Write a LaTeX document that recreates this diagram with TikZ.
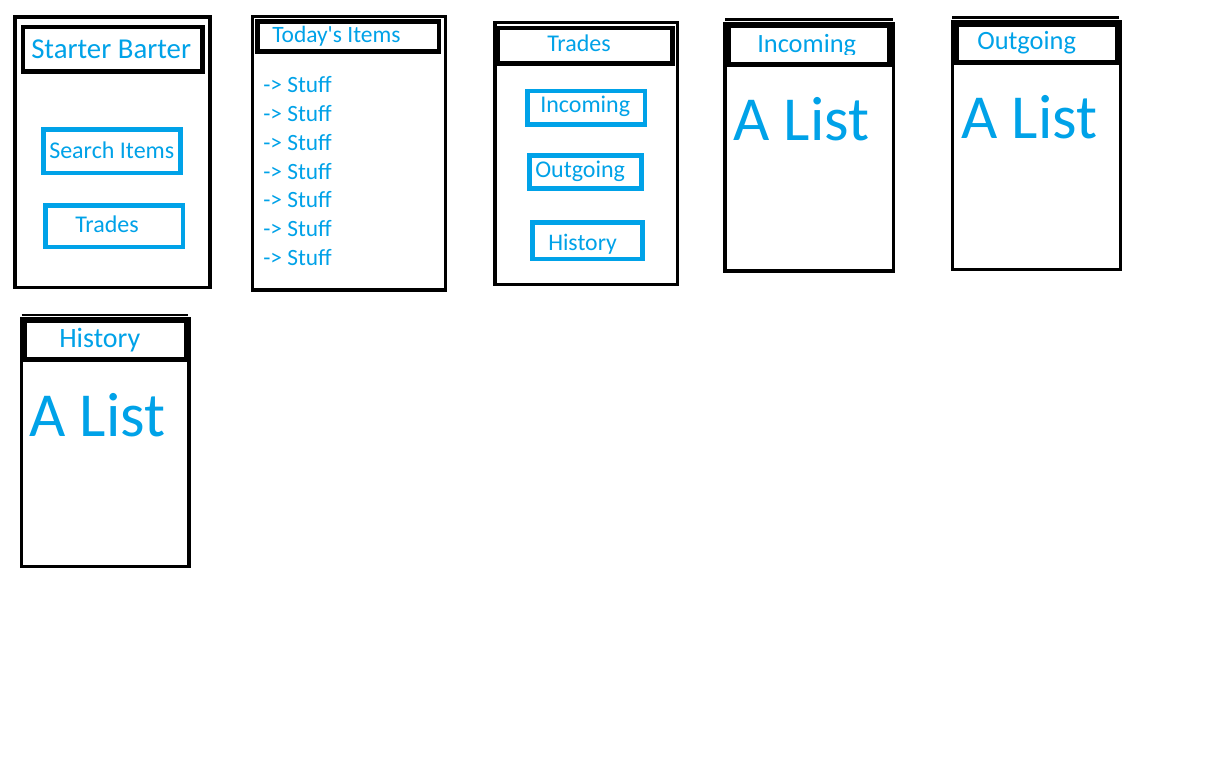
\documentclass[tikz,border=0pt]{standalone}
\usepackage{fontspec}
\setmainfont{Carlito}[Ligatures=TeXOff]
\definecolor{paintblue}{RGB}{0,162,232}
\begin{document}
\begin{tikzpicture}[x=0.75pt,y=-0.75pt,
  outer/.style={draw=black,line width=2.4pt},
  hdr/.style={draw=black,line width=3.6pt},
  btn/.style={draw=paintblue,line width=3.4pt},
  txt/.style={anchor=base west,inner sep=0pt,text=paintblue},
  thin/.style={draw=black,line width=1.6pt}]
\useasboundingbox[fill=white] (0,0) rectangle (1228,770);
% ---------- Screen 1: Starter Barter
\draw[outer] (15,17) rectangle (210,287.5);
\draw[hdr] (23,27) rectangle (202.7,71.7);
\node[txt,font=\fontsize{21.6}{24}\selectfont] (t1) at (31,59) {Starter Barter};
\draw[btn] (43.7,129.7) rectangle (180.3,173);
\node[txt,font=\fontsize{18}{20}\selectfont] (b1a) at (49,159) {Search Items};
\draw[btn] (45.7,205.7) rectangle (183,247);
\node[txt,font=\fontsize{18}{20}\selectfont] (b1b) at (75,232.7) {Trades};
% ---------- Screen 2: Today's Items
\draw[outer] (252.7,16.7) rectangle (445.7,290);
\draw[hdr] (257.7,21.7) rectangle (439,51.7);
\node[txt,font=\fontsize{17.6}{20}\selectfont] (t2) at (272,43) {Today's Items};
\foreach \y [count=\i] in {93,122,151,179.5,208,237,265.5}
  \node[txt,font=\fontsize{17.5}{20}\selectfont] (s\i) at (263,\y) {-> Stuff};
% ---------- Screen 3: Trades
\draw[outer] (495,22.3) rectangle (677.7,284.3);
\draw[hdr] (497.7,28) rectangle (672.3,63.3);
\node[txt,font=\fontsize{18}{20}\selectfont] (t3) at (547,52) {Trades};
\draw[btn] (527.7,91) rectangle (645,124.3);
\node[txt,font=\fontsize{18}{20}\selectfont] (b3a) at (540,113) {Incoming};
\draw[btn] (529.7,155.7) rectangle (641.7,188.3);
\node[txt,font=\fontsize{18}{20}\selectfont] (b3b) at (535,178) {Outgoing};
\draw[btn] (532.3,222.3) rectangle (642.3,259);
\node[txt,font=\fontsize{17.8}{20}\selectfont] (b3c) at (548,250) {History};
% ---------- Screen 4: Incoming
\draw[thin] (725,19.5) -- (893,19.5);
\draw[outer] (725,24) rectangle (893.7,271);
\draw[hdr] (728.3,25.7) rectangle (889.7,64.3);
\begin{scope}
  \clip (730,28) rectangle (888,54.5);
  \node[txt,font=\fontsize{19.8}{22}\selectfont] (t4) at (757,53) {Incoming};
\end{scope}
\node[txt,font=\fontsize{47}{50}\selectfont] (l4) at (733,141) {A List};
% ---------- Screen 5: Outgoing
\draw[thin] (952.3,17.5) -- (1119,17.5);
\draw[outer] (952.3,22) rectangle (1120.3,269.3);
\draw[hdr] (956.3,24.7) rectangle (1117,62.3);
\node[txt,font=\fontsize{19.8}{22}\selectfont] (t5) at (977,50) {Outgoing};
\node[txt,font=\fontsize{47}{50}\selectfont] (l5) at (961,139) {A List};
% ---------- Screen 6: History
\draw[thin] (21.7,315) -- (188,315);
\draw[outer] (21.7,319) rectangle (189,566.7);
\draw[hdr] (24.3,320.7) rectangle (186.3,359.3);
\node[txt,font=\fontsize{21}{24}\selectfont] (t6) at (59,347) {History};
\node[txt,font=\fontsize{47}{50}\selectfont] (l6) at (29,436) {A List};
\end{tikzpicture}
\end{document}
